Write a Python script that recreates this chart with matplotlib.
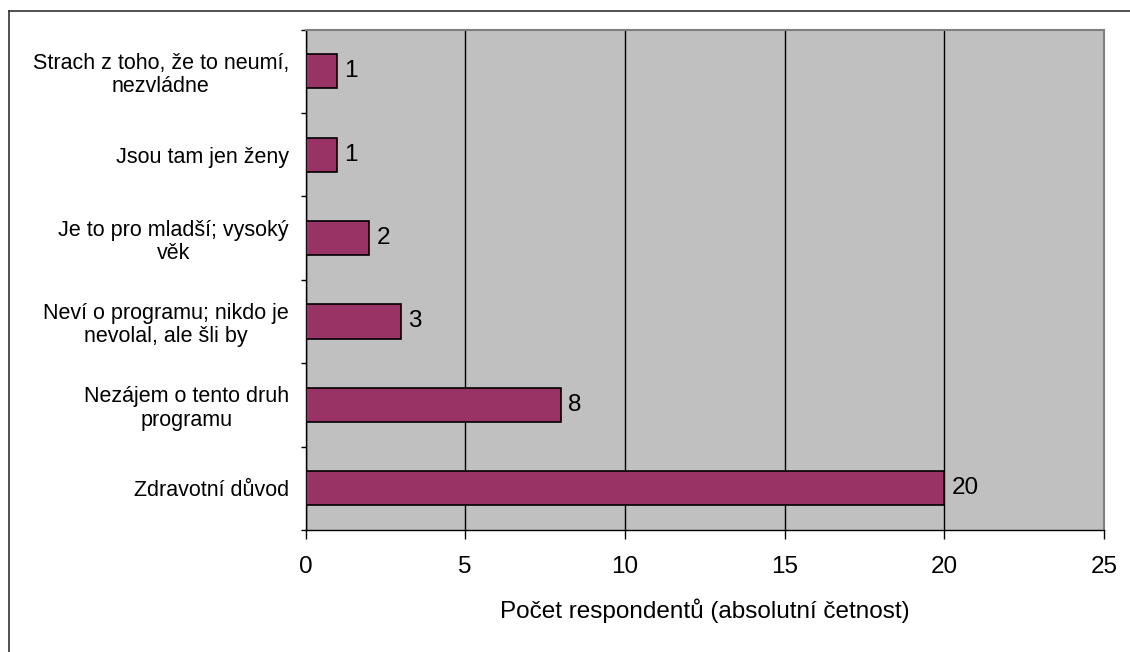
import matplotlib.pyplot as plt
from matplotlib.lines import Line2D
import numpy as np

plt.rcParams['font.family'] = ['Liberation Sans', 'DejaVu Sans']

# categories listed top to bottom
categories = [
    'Strach z toho, že to neumí,\nnezvládne',
    'Jsou tam jen ženy',
    'Je to pro mladší; vysoký\nvěk',
    'Neví o programu; nikdo je\nnevolal, ale šli by',
    'Nezájem o tento druh\nprogramu',
    'Zdravotní důvod',
]
counts = [1, 1, 2, 3, 8, 20]
xticks = [0, 5, 10, 15, 20, 25]

fig = plt.figure(figsize=(11.3, 6.52), dpi=100)
ax = fig.add_axes([0.2704, 0.1871, 0.7066, 0.7676])
ax.set_facecolor('#c0c0c0')

ypos = np.arange(len(categories))[::-1]
bars = ax.barh(ypos, counts, height=0.41, color='#993366',
               edgecolor='black', linewidth=1.2, zorder=3)
ax.bar_label(bars, labels=[str(c) for c in counts], padding=5, fontsize=17.5)

ax.set_xlim(0, 25)
ax.set_ylim(-0.5, len(categories) - 0.5)
ax.set_xticks(xticks)
ax.xaxis.grid(True, color='black', linewidth=1, zorder=1)
ax.tick_params(axis='x', length=6.5, width=1, pad=12, labelsize=17.5)

# labels at category centres, tick marks on the borders
ax.set_yticks(ypos)
ax.set_yticklabels(categories, fontsize=15.5, multialignment='center',
                   linespacing=1.15)
ax.set_yticks(np.arange(-0.5, len(categories), 1), minor=True)
ax.tick_params(axis='y', which='major', length=0, pad=12)
ax.tick_params(axis='y', which='minor', length=3.5, width=1)

ax.set_xlabel('Počet respondentů (absolutní četnost)', fontsize=17.5,
              labelpad=15)

for side in ['left', 'bottom']:
    ax.spines[side].set_color('black')
    ax.spines[side].set_linewidth(1)
for side in ['top', 'right']:
    ax.spines[side].set_color('#808080')
    ax.spines[side].set_linewidth(1.5)

# outer frame around the chart
fx = 8.5 / 1130
fy = 1 - 10.5 / 652
fig.add_artist(Line2D([fx, fx], [0, fy], color='#333333', linewidth=1.2))
fig.add_artist(Line2D([fx, 1], [fy, fy], color='#333333', linewidth=1.2))

fig.savefig('out.png', dpi=100)
